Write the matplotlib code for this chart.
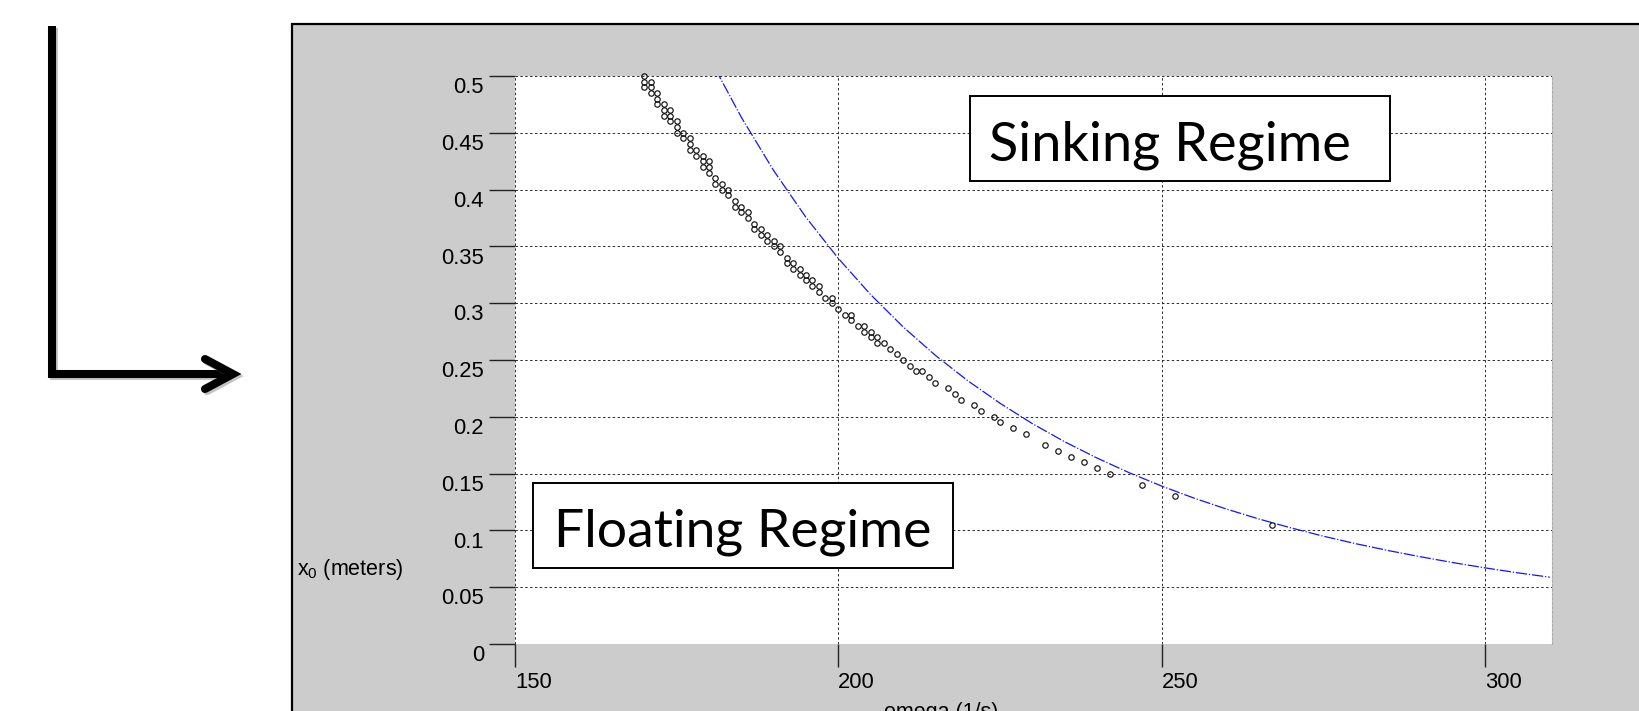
import matplotlib
matplotlib.use("Agg")
import matplotlib.pyplot as plt
from matplotlib.patches import Rectangle
from matplotlib.lines import Line2D
from matplotlib.transforms import ScaledTranslation
import matplotlib.patheffects as pe

plt.rcParams['font.family'] = ['Liberation Sans', 'DejaVu Sans']
plt.rcParams['mathtext.default'] = 'regular'

# ---------------- data ----------------
# boundary points found on an (omega, x0) grid
pts_omega = [
    170, 170, 170, 171, 171, 171, 172, 172, 172, 173, 173, 173,
    174, 174, 174, 175, 175, 175, 176, 176, 177, 177, 177, 178, 178,
    179, 179, 179, 180, 180, 180, 181, 181, 182, 182, 183, 183,
    184, 184, 185, 185, 186, 186, 187, 187, 188, 188, 189, 189,
    190, 190, 191, 191, 192, 192, 193, 193, 194, 194, 195, 195,
    196, 196, 197, 197, 198, 199, 199, 200, 201, 202, 202, 203,
    204, 204, 205, 205, 206, 206, 207, 208, 209, 210, 211, 212, 213,
    214, 215, 217, 218, 219, 221, 222, 224, 225, 227, 229, 232, 234,
    236, 238, 240, 242, 247, 252, 267,
]
pts_x0 = [
    0.500, 0.495, 0.490, 0.495, 0.490, 0.485, 0.485, 0.480, 0.475, 0.475, 0.470, 0.465,
    0.470, 0.465, 0.460, 0.460, 0.455, 0.450, 0.450, 0.445, 0.445, 0.440, 0.435, 0.435, 0.430,
    0.430, 0.425, 0.420, 0.425, 0.420, 0.415, 0.410, 0.405, 0.405, 0.400, 0.400, 0.395,
    0.390, 0.385, 0.385, 0.380, 0.380, 0.375, 0.370, 0.365, 0.365, 0.360, 0.360, 0.355,
    0.355, 0.350, 0.350, 0.345, 0.340, 0.335, 0.335, 0.330, 0.330, 0.325, 0.325, 0.320,
    0.320, 0.315, 0.315, 0.310, 0.305, 0.305, 0.300, 0.295, 0.290, 0.290, 0.285, 0.280,
    0.280, 0.275, 0.275, 0.270, 0.270, 0.265, 0.265, 0.260, 0.255, 0.250, 0.245, 0.240, 0.240,
    0.235, 0.230, 0.225, 0.220, 0.215, 0.210, 0.205, 0.200, 0.195, 0.190, 0.185, 0.175, 0.170,
    0.165, 0.160, 0.155, 0.150, 0.140, 0.130, 0.105,
]

# blue theoretical curve
line_omega = [181, 185, 190, 195, 200, 205, 210, 215, 220, 225, 230, 235, 240,
              245, 250, 255, 260, 265, 270, 275, 280, 285, 290, 295, 300, 305, 310]
line_x0 = [0.506, 0.4636, 0.4167, 0.3755, 0.3394, 0.3075, 0.2792, 0.2541, 0.2318,
           0.2119, 0.1940, 0.1780, 0.1637, 0.1507, 0.1390, 0.1284, 0.1188, 0.1101,
           0.1022, 0.0949, 0.0883, 0.0823, 0.0768, 0.0717, 0.0670, 0.0627, 0.0588]

xticks = [150, 200, 250, 300]
xtick_labels = ['150', '200', '250', '300']
yticks = [0, 0.05, 0.1, 0.15, 0.2, 0.25, 0.3, 0.35, 0.4, 0.45, 0.5]
ytick_labels = ['0', '0.05', '0.1', '0.15', '0.2', '0.25', '0.3', '0.35', '0.4', '0.45', '0.5']

xlabel = 'omega (1/s)'
ylabel = r'$\mathregular{x_0}$ (meters)'
label_sinking = 'Sinking Regime'
label_floating = 'Floating Regime'

# ---------------- figure ----------------
W, H = 1639, 711
fig = plt.figure(figsize=(W / 100, H / 100), dpi=100)
fig.patch.set_facecolor('white')


def fx(x):
    return x / W


def fy(y):
    return 1 - y / H


# grey panel
fig.add_artist(Rectangle((fx(292), fy(740)), fx(1700) - fx(292), fy(24) - fy(740),
                         transform=fig.transFigure, facecolor='#cccccc',
                         edgecolor='black', lw=1.6, zorder=0))

# L-shaped arrow at the left
shadow = [pe.SimpleLineShadow(offset=(1.5, -1.5), alpha=0.35, shadow_color='#555555'), pe.Normal()]
arrow_body = Line2D([fx(52), fx(52), fx(230)], [fy(26), fy(374), fy(374)],
                    transform=fig.transFigure, color='black', lw=5.8,
                    solid_joinstyle='miter', solid_capstyle='butt', path_effects=shadow)
arrow_head = Line2D([fx(205), fx(233), fx(205)], [fy(359), fy(374), fy(389)],
                    transform=fig.transFigure, color='black', lw=5.8,
                    solid_joinstyle='miter', solid_capstyle='round', path_effects=shadow)
fig.add_artist(arrow_body)
fig.add_artist(arrow_head)

# axes
ax = fig.add_axes([fx(515), fy(644), fx(1551.7) - fx(515), fy(76) - fy(644)])
ax.set_facecolor('white')
ax.set_xlim(150, 310.3)
ax.set_ylim(0, 0.5)

ax.plot(line_omega, line_x0, color='#1414ff', lw=0.9,
        linestyle=(0, (9, 1.5, 1, 1.5)), zorder=3, clip_on=True)
ax.plot(pts_omega, pts_x0, linestyle='none', marker='o', ms=3.9,
        mfc='none', mec='#111111', mew=0.85, zorder=4, clip_on=False)

ax.set_xticks(xticks)
ax.set_xticklabels(xtick_labels, ha='left')
ax.set_yticks(yticks)
ax.set_yticklabels(ytick_labels, va='baseline')

ax.tick_params(axis='x', direction='out', length=16.5, width=1.0, color='#222222',
               pad=3.6, labelsize=15.8, labelcolor='black')
ax.tick_params(axis='y', direction='out', length=18.7, width=1.0, color='#222222',
               pad=3.6, labelsize=15.8, labelcolor='black')

off = ScaledTranslation(0, -17.3 / 100, fig.dpi_scale_trans)
for lab in ax.get_yticklabels():
    lab.set_transform(lab.get_transform() + off)

ax.grid(True, color='#2a2a2a', linestyle=(0, (2.5, 2.5)), linewidth=0.7)
ax.set_axisbelow(True)
for s in ['left', 'bottom', 'top']:
    ax.spines[s].set_visible(False)
ax.spines['right'].set_color('#aaaaaa')
ax.spines['right'].set_linestyle((0, (2, 2)))
ax.spines['right'].set_linewidth(0.8)

# axis labels (placed like the original export)
fig.text(fx(297), fy(570), ylabel, ha='left', va='center', fontsize=15.5, color='black')
fig.text(fx(941), fy(702), xlabel, ha='center', va='top', fontsize=15.5, color='black')

# regime boxes
fig.add_artist(Rectangle((fx(970), fy(181)), fx(1390) - fx(970), fy(96) - fy(181),
                         transform=fig.transFigure, facecolor='white',
                         edgecolor='black', lw=1.4, zorder=5))
fig.add_artist(Rectangle((fx(533), fy(568)), fx(953) - fx(533), fy(483) - fy(568),
                         transform=fig.transFigure, facecolor='white',
                         edgecolor='black', lw=1.4, zorder=5))
fig.text(fx(989), fy(160), label_sinking, ha='left', va='baseline',
         fontsize=39, family=['Lato', 'DejaVu Sans'], color='black', zorder=6)
fig.text(fx(554), fy(547), label_floating, ha='left', va='baseline',
         fontsize=38.5, family=['Lato', 'DejaVu Sans'], color='black', zorder=6)

fig.savefig('out.png', dpi=100, facecolor='white')
